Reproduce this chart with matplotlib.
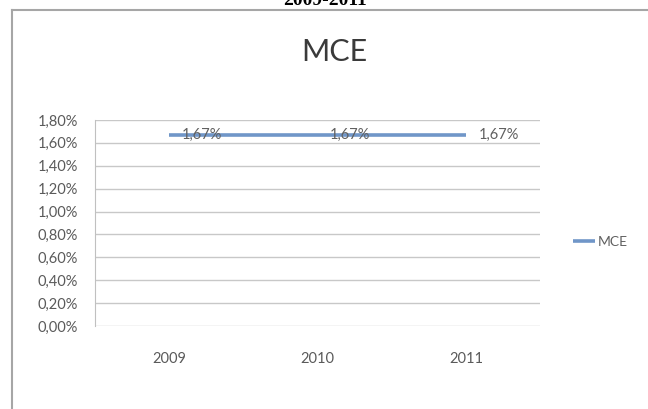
import matplotlib.pyplot as plt
from matplotlib.lines import Line2D

# Data
tahun = ['2009', '2010', '2011']
mce = [1.67, 1.67, 1.67]          # persen
y_ticks = [0.0, 0.2, 0.4, 0.6, 0.8, 1.0, 1.2, 1.4, 1.6, 1.8]

plt.rcParams['font.family'] = ['Lato', 'DejaVu Sans']

fig = plt.figure(figsize=(6.48, 4.09), dpi=100)
ax = fig.add_axes([95 / 648, 1 - 326 / 409, 445 / 648, 206 / 409])

x = range(len(tahun))
ax.plot(x, mce, color='#7096c8', linewidth=2.6, solid_capstyle='butt', label='MCE', zorder=3)

# Label nilai di kanan tiap titik
for xi, v in zip(x, mce):
    ax.annotate(f'{v:.2f}%'.replace('.', ','), (xi, v), xytext=(9, 0),
                textcoords='offset points', ha='left', va='center',
                fontsize=10.5, color='#606060', zorder=4)

ax.set_xlim(-0.5, len(tahun) - 0.5)
ax.set_ylim(0, 1.8)
ax.set_yticks(y_ticks)
ax.set_yticklabels([f'{t:.2f}%'.replace('.', ',') for t in y_ticks])
ax.set_xticks(list(x))
ax.set_xticklabels(tahun)
ax.tick_params(axis='both', length=0, labelsize=10.5, colors='#5a5a5a')
ax.tick_params(axis='y', pad=12)
ax.tick_params(axis='x', pad=19)

ax.grid(axis='y', color='#c8c8c8', linewidth=1)
ax.set_axisbelow(True)
for s in ['top', 'right', 'bottom']:
    ax.spines[s].set_visible(False)
ax.spines['left'].set_color('#c0c0c0')

fig.text(334 / 648, 1 - 52 / 409, 'MCE', ha='center', va='center',
         fontsize=22, color='#3a3a3a')

# Legenda
ax.legend(loc='center left', bbox_to_anchor=(573 / 648, 1 - 242 / 409),
          bbox_transform=fig.transFigure, frameon=False, fontsize=10,
          handlelength=1.6, handletextpad=0.2, borderpad=0, borderaxespad=0,
          labelcolor='#606060')

# Bingkai dan judul halaman di atas
fig.add_artist(Line2D([12 / 648, 12 / 648], [0, 1 - 10 / 409],
                      color='#a6a6a6', linewidth=1.5, transform=fig.transFigure))
fig.add_artist(Line2D([12 / 648, 1], [1 - 10 / 409, 1 - 10 / 409],
                      color='#a6a6a6', linewidth=1.5, transform=fig.transFigure))
fig.text(325 / 648, 1 - 5 / 409, '2009-2011', ha='center', va='baseline',
         fontsize=14, fontweight='bold', family='Liberation Serif', color='black')

plt.savefig('out.png', dpi=100)
